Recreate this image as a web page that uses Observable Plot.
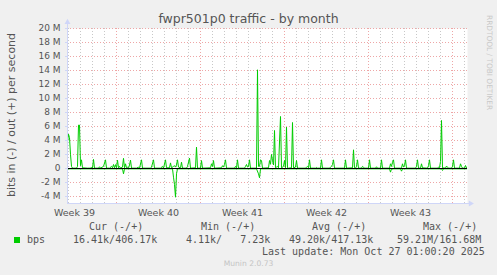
<!DOCTYPE html>
<html><head><meta charset="utf-8">
<script src="https://cdn.jsdelivr.net/npm/d3@7"></script>
<script src="https://cdn.jsdelivr.net/npm/@observablehq/plot@0.6"></script>
<style>
html,body{margin:0;padding:0;background:#f0f0f0;}
#wrap{position:relative;width:497px;height:275px;overflow:hidden;background:#f0f0f0;font-family:"DejaVu Sans",sans-serif;color:#555;}
.abs{position:absolute;white-space:pre;line-height:1;}
.mono{font-family:"DejaVu Sans Mono",monospace;font-size:10px;color:#555;}
#chart{position:absolute;left:0;top:20px;}
</style></head><body>
<div id="wrap">
  <div class="abs" id="title" style="left:0;width:497px;text-align:center;top:13.4px;font-size:12.5px;"></div>
  <div class="abs" id="ylabel" style="left:11px;top:115px;font-size:11px;transform:translate(-50%,-50%) rotate(-90deg);"></div>
  <div class="abs" id="wm" style="left:485.5px;top:15px;font-size:7.4px;color:#c8c8c8;writing-mode:vertical-rl;"></div>
  <div id="chart"></div>
  <div id="legend"></div>
  <div class="abs" id="munin" style="left:0;width:497px;text-align:center;top:260.3px;font-size:7.6px;color:#c4c4c4;"></div>
</div>
<script>
// ---- data (values in Mbit/s, time in hours from left edge of graph) ----
const titleText = "fwpr501p0 traffic - by month";
const yAxisTitle = "bits in (-) / out (+) per second";
const watermark = "RRDTOOL / TOBI OETIKER";
const footer = "Munin 2.0.73";

const outSamples = [
  [0,3.8],[2,4.9],[4,4.4],[6,2.0],[8,0.3],[10,0.05],
  [18,0.05],[20,0.3],[22,6.2],[24,6.2],[26,0.4],[28,1.24],[30,0.1],
  [40,0.05],[46,0.05],[48,0.2],[50,0.05],[52,1.3],[54,0.05],
  [62,0.05],[64,0.25],[66,0.05],
  [72,0.3],[76,1.24],[78,0.05],
  [84,0.05],[88,0.3],[90,0.1],[92,0.57],[94,0.1],[96,0.55],[98,0.1],[100,1.2],[102,0.1],[104,0.3],[106,0.05],
  [110,0.2],[112,1.45],[114,0.1],[116,0.67],[118,0.1],[120,0.2],[122,0.05],[124,0.5],[126,1.2],[128,0.05],
  [138,0.05],[142,0.2],[144,0.05],[148,1.24],[150,0.05],
  [166,0.05],[168,0.2],[172,1.24],[174,0.05],
  [186,0.05],[190,0.3],[192,0.05],[196,1.24],[198,0.1],
  [204,0.1],[206,0.8],[208,0.1],
  [212,0.3],[214,0.4],[216,0.2],[218,0.5],[220,1.24],[222,0.2],
  [226,0.1],[228,0.9],[230,0.05],
  [238,0.05],[240,0.3],[244,1.48],[246,0.05],
  [256,0.1],[258,3.05],[260,0.05],
  [266,0.05],[268,1.14],[270,0.05],
  [286,0.1],[288,0.67],[290,0.3],[292,1.14],[294,0.05],
  [308,0.1],[310,0.4],[312,0.2],[314,0.6],[316,1.24],[318,0.05],
  [334,0.05],[336,0.3],[338,0.1],[340,1.24],[342,0.05],
  [354,0.05],[356,0.3],[358,0.57],[360,0.2],[362,0.3],[364,1.24],[366,0.05],
  [378,0.05],[380,14.1],[382,0.3],[384,0.3],[386,1.24],[388,1.14],[390,0.05],
  [402,0.1],[404,1.14],[406,0.6],[408,2.0],[410,1.14],[412,0.5],[414,5.43],[416,0.1],[418,0.2],[420,0.3],[422,0.1],
  [426,7.43],[428,0.1],[432,0.3],[434,1.14],[436,0.1],
  [438,5.9],[440,0.1],[442,0.05],
  [448,0.1],[450,6.57],[452,0.1],[456,0.2],[458,1.14],[460,0.05],
  [476,0.05],[478,0.2],[480,0.3],[482,0.1],[484,1.24],[486,0.05],
  [496,0.05],[498,0.15],[500,0.05],
  [506,0.05],[508,1.24],[510,0.05],
  [524,0.05],[526,0.2],[528,0.3],[530,0.57],[532,1.24],[534,0.05],
  [554,0.05],[556,1.24],[558,0.05],
  [570,0.1],[572,2.67],[574,0.1],[576,0.05],[578,0.3],[580,1.24],[582,0.05],
  [588,0.05],[590,0.3],[592,0.2],[594,0.05],
  [602,0.05],[604,1.24],[606,0.05],
  [616,0.05],[618,0.25],[620,0.05],
  [626,0.05],[628,1.24],[630,0.05],
  [644,0.05],[646,0.67],[648,0.3],[650,0.9],[652,1.24],[654,0.05],
  [666,0.05],[668,0.1],[670,0.67],[672,0.2],[674,0.4],[676,1.24],[678,0.05],
  [696,0.05],[698,0.3],[700,1.24],[702,0.05],
  [706,0.05],[708,0.67],[710,0.1],
  [720,0.05],[722,0.4],[724,1.24],[726,0.05],
  [740,0.05],[742,0.2],[744,0.1],[746,1.0],[748,6.86],[750,0.1],
  [756,0.05],[758,0.35],[760,0.2],[762,0.05],
  [768,0.05],[770,0.3],[772,1.24],[774,0.05],
  [784,0.05],[786,0.67],[788,0.3],[790,0.05],[794,0.05],[796,0.43],[798,0.1]
];
const inSamples = [
  [0,-0.05],[110,-0.05],[112,-0.76],[114,-0.05],
  [210,-0.05],[212,-1.24],[214,-2.3],[216,-4.1],[218,-0.76],[220,-0.05],
  [378,-0.05],[382,-0.76],[384,-1.33],[386,-0.05],
  [644,-0.05],[646,-0.52],[648,-0.05],[666,-0.05],[668,-0.38],[670,-0.05],
  [748,-0.05],[750,-0.28],[752,-0.05],[798,-0.05]
];

const yTicks = [-4,-2,0,2,4,6,8,10,12,14,16,18,20];
const weekLabels = ["Week 39","Week 40","Week 41","Week 42","Week 43"];
const weekLabelHours = [14,182,350,518,686];
const weekGridHours = [98,266,434,602,770];
const xDomain = [0,800];
const yDomain = [-5,20];
const xAxisEnd = 806;
const yAxisTop = 20.9;

const legendHeaders = [["Cur (-/+)",89],["Min (-/+)",201],["Avg (-/+)",312],["Max (-/+)",423]];
const legendName = "bps";
const legendValues = [["16.41k/406.17k",73],["4.11k/   7.23k",186],["49.20k/417.13k",289],["59.21M/161.68M",397]];
const lastUpdate = "Last update: Mon Oct 27 01:00:20 2025";
const lineColor = "#00cc00";

// ---- build ----
const dayGridHours = d3.range(2, 800, 24);
const outData = outSamples.map(([h,v]) => ({h, v}));
const inData = inSamples.map(([h,v]) => ({h, v}));
const axisColor = "#cfd6f8";
const gridColor = "#c8c8c8";
const mgridColor = "#eea6a6";

const chart = Plot.plot({
  width: 497, height: 200,
  marginLeft: 67, marginRight: 30, marginTop: 8, marginBottom: 17,
  x: {type: "linear", domain: xDomain, label: null},
  y: {domain: yDomain, label: null},
  style: {background: "transparent", fontFamily: "DejaVu Sans, sans-serif", overflow: "visible", color: "#555"},
  marks: [
    Plot.frame({fill: "#fff", stroke: "none"}),
    Plot.ruleX(dayGridHours, {stroke: gridColor, strokeDasharray: "1,2"}),
    Plot.ruleY(yTicks, {stroke: mgridColor, strokeDasharray: "1,2"}),
    Plot.ruleX(weekGridHours, {stroke: mgridColor, strokeDasharray: "1,2"}),
    Plot.line(outData, {x: "h", y: "v", stroke: lineColor, strokeWidth: 1}),
    Plot.line(inData, {x: "h", y: "v", stroke: lineColor, strokeWidth: 1}),
    Plot.ruleY([0], {stroke: "#000", strokeWidth: 1}),
    Plot.axisY(yTicks, {label: null, tickSize: 2, tickPadding: 5, fontSize: 9, fill: "#555", stroke: axisColor,
      tickFormat: d => d === 0 ? "0" : `${d} M`}),
    Plot.axisX(weekLabelHours, {label: null, tickSize: 0, tickPadding: 6, fontSize: 9.5, fill: "#555",
      tickFormat: d => weekLabels[weekLabelHours.indexOf(d)]}),
    Plot.ruleX([xDomain[0]], {y1: yDomain[0], y2: yAxisTop, stroke: axisColor}),
    Plot.ruleY([yDomain[0]], {x1: xDomain[0], x2: xAxisEnd, stroke: axisColor}),
    Plot.dot([0], {x: () => xDomain[0], y: () => yAxisTop, symbol: "triangle", r: 2.2, fill: axisColor, stroke: "none"}),
    Plot.dot([0], {x: () => xAxisEnd, y: () => yDomain[0], symbol: "triangle", rotate: 90, r: 2.2, fill: axisColor, stroke: "none"})
  ]
});
document.getElementById("chart").appendChild(chart);

document.getElementById("title").textContent = titleText;
document.getElementById("ylabel").textContent = yAxisTitle;
document.getElementById("wm").textContent = watermark;
document.getElementById("munin").textContent = footer;

const legend = document.getElementById("legend");
function addText(txt, left, top, cls) {
  const d = document.createElement("div");
  d.className = "abs " + cls;
  d.style.left = left + "px"; d.style.top = top + "px";
  d.textContent = txt;
  legend.appendChild(d);
}
legendHeaders.forEach(([t,x]) => addText(t, x, 222.2, "mono"));
addText(legendName, 27, 234.8, "mono");
legendValues.forEach(([t,x]) => addText(t, x, 234.8, "mono"));
addText(lastUpdate, 262, 246.5, "mono");
const sw = document.createElement("div");
sw.style.cssText = `position:absolute;left:14px;top:237px;width:6px;height:6px;background:${lineColor};`;
legend.appendChild(sw);
</script>
</body></html>
